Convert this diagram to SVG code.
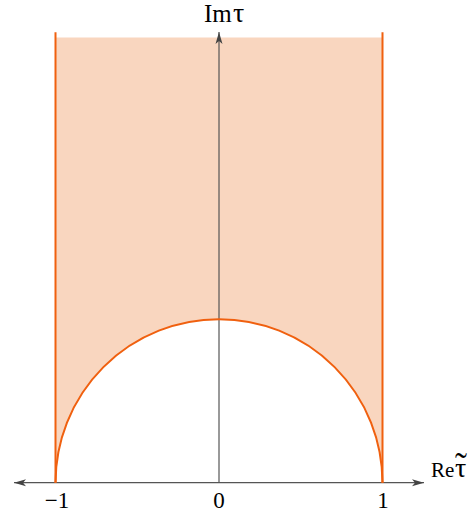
<svg xmlns="http://www.w3.org/2000/svg" width="469" height="511" viewBox="0 0 469 511">
<style>
text{font-family:'Liberation Serif','Times New Roman',serif;fill:#000}
.num{font-size:23px}
.edge{stroke:#F0600F;stroke-width:2;fill:none}
.axis{stroke:#555;stroke-width:1.2;fill:none}
</style>
<defs>
<marker id="ah" viewBox="0 0 12 8" refX="12" refY="4" markerWidth="12" markerHeight="8" markerUnits="userSpaceOnUse" orient="auto">
<path d="M0,0.5 L12,4 L0,7.5 L3,4 Z" fill="#444"/>
</marker>
</defs>
<g id="region">
<path d="M55.5,37.5 H382.5 V482.7 A163.5 163.5 0 0 0 55.5 482.7 Z" fill="#F9D6BF"/>
</g>
<g id="connectors">
<line class="axis" x1="219" y1="482.7" x2="424" y2="482.7" marker-end="url(#ah)"/>
<line class="axis" x1="219" y1="482.7" x2="14" y2="482.7" marker-end="url(#ah)"/>
<line class="axis" x1="219" y1="482.7" x2="219" y2="32" marker-end="url(#ah)" stroke="#333"/>
</g>
<g id="boundary">
<line class="edge" x1="55.5" y1="32.3" x2="55.5" y2="482.7"/>
<line class="edge" x1="382.5" y1="32.3" x2="382.5" y2="482.7"/>
<path class="edge" d="M382.5,482.7 A163.5 163.5 0 0 0 55.5 482.7"/>
</g>
<g id="labels">
<text x="204" y="22" font-size="25">Im<tspan x="233" font-size="28">τ</tspan></text>
<text x="431" y="477" font-size="21">Re<tspan x="455" font-size="28">τ</tspan><tspan x="455" y="478" font-size="36">˜</tspan></text>
<text class="num" x="57" y="507.5" text-anchor="middle">−1</text>
<text class="num" x="219" y="507.5" text-anchor="middle">0</text>
<text class="num" x="383" y="507.5" text-anchor="middle">1</text>
</g>
</svg>
